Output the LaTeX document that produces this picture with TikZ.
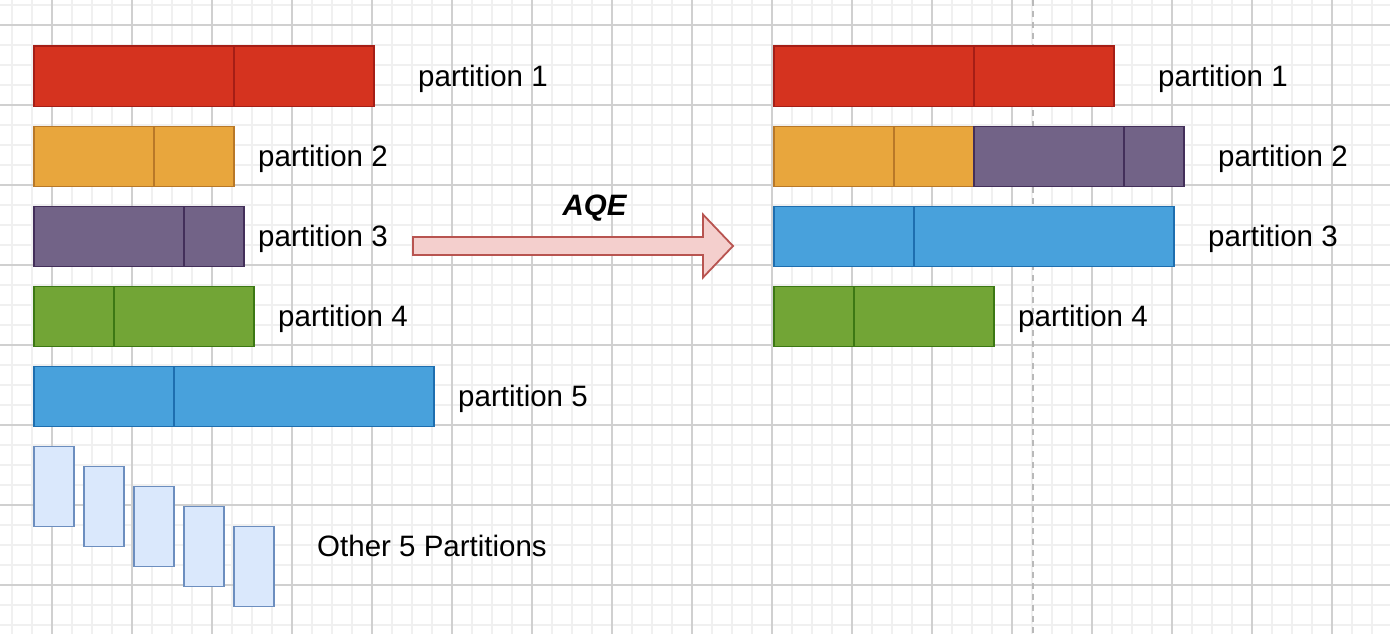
\documentclass[tikz,border=0pt]{standalone}
\usepackage{fontspec}
\setmainfont{Liberation Sans}
\definecolor{redF}{HTML}{D5331F}\definecolor{redS}{HTML}{A51E16}
\definecolor{orgF}{HTML}{E8A63D}\definecolor{orgS}{HTML}{B87828}
\definecolor{purF}{HTML}{726387}\definecolor{purS}{HTML}{432F5A}
\definecolor{grnF}{HTML}{72A536}\definecolor{grnS}{HTML}{3C7814}
\definecolor{bluF}{HTML}{48A1DC}\definecolor{bluS}{HTML}{1E6EAF}
\definecolor{smF}{HTML}{DAE8FC}\definecolor{smS}{HTML}{6C8EBF}
\definecolor{arF}{HTML}{F4CFCD}\definecolor{arS}{HTML}{B85450}
\definecolor{gridMinor}{HTML}{F0F0F0}\definecolor{gridMajor}{HTML}{D0D0D0}
\tikzset{
  seg/.style={draw, line width=1.8pt, inner sep=0pt, anchor=north west},
  redseg/.style={seg, fill=redF, draw=redS},
  orgseg/.style={seg, fill=orgF, draw=orgS},
  purseg/.style={seg, fill=purF, draw=purS},
  grnseg/.style={seg, fill=grnF, draw=grnS},
  bluseg/.style={seg, fill=bluF, draw=bluS},
  smallbox/.style={seg, fill=smF, draw=smS, minimum width=40pt, minimum height=80pt},
  lbl/.style={anchor=base west, inner sep=0pt, font=\fontsize{29.5}{34}\selectfont},
}
\newcommand{\segbox}[5]{% style, name, x1, x2, y
  \node[#1, minimum width={#4-#3}, minimum height=60pt] (#2) at (#3,#5) {};}
\begin{document}
\begin{tikzpicture}[x=1pt,y=-1pt]
\useasboundingbox (0,0) rectangle (1390,634);
\fill[white] (0,0) rectangle (1390,634);
% grid
\foreach \gx in {12,32,...,1390} \draw[gridMinor, line width=1.3pt] (\gx,0) -- (\gx,634);
\foreach \gy in {5,25,...,634} \draw[gridMinor, line width=1.3pt] (0,\gy) -- (1390,\gy);
\foreach \gx in {52,132,...,1390} \draw[gridMajor, line width=1.1pt] (\gx,0) -- (\gx,634);
\foreach \gy in {25,105,...,634} \draw[gridMajor, line width=1.1pt] (0,\gy) -- (1390,\gy);
% dashed guide
\draw[gray!55, line width=1.5pt, dash pattern=on 6pt off 5pt] (1033,0) -- (1033,634);

% left side
\segbox{redseg}{L1a}{33}{233}{45.5}
\segbox{redseg}{L1b}{233}{373}{45.5}
\node[lbl] (tL1) at (418,86.5) {partition 1};
\segbox{orgseg}{L2a}{33}{153}{125.5}
\segbox{orgseg}{L2b}{153}{233}{125.5}
\node[lbl] (tL2) at (258,166.5) {partition 2};
\segbox{purseg}{L3a}{33}{183}{205.5}
\segbox{purseg}{L3b}{183}{243}{205.5}
\node[lbl] (tL3) at (258,246.5) {partition 3};
\segbox{grnseg}{L4a}{33}{113}{285.5}
\segbox{grnseg}{L4b}{113}{253}{285.5}
\node[lbl] (tL4) at (278,326.5) {partition 4};
\segbox{bluseg}{L5a}{33}{173}{365.5}
\segbox{bluseg}{L5b}{173}{433}{365.5}
\node[lbl] (tL5) at (458,406.5) {partition 5};
\node[smallbox] (s1) at (33,445.5) {};
\node[smallbox] (s2) at (83,465.5) {};
\node[smallbox] (s3) at (133,485.5) {};
\node[smallbox] (s4) at (183,505.5) {};
\node[smallbox] (s5) at (233,525.5) {};
\node[lbl] (tOther) at (317,556.5) {Other 5 Partitions};

% arrow
\draw[fill=arF, draw=arS, line width=1.8pt, line join=miter]
  (413,237) -- (703,237) -- (703,214.5) -- (733,246) -- (703,277.5) -- (703,255) -- (413,255) -- cycle;
\node[anchor=base, inner sep=0pt, font=\fontsize{29.5}{34}\selectfont\bfseries\itshape] (aqe) at (594.5,215) {AQE};

% right side
\segbox{redseg}{R1a}{773}{973}{45.5}
\segbox{redseg}{R1b}{973}{1113}{45.5}
\node[lbl] (tR1) at (1158,86.5) {partition 1};
\segbox{orgseg}{R2a}{773}{893}{125.5}
\segbox{orgseg}{R2b}{893}{973}{125.5}
\segbox{purseg}{R2c}{973}{1123}{125.5}
\segbox{purseg}{R2d}{1123}{1183}{125.5}
\node[lbl] (tR2) at (1218,166.5) {partition 2};
\segbox{bluseg}{R3a}{773}{913}{205.5}
\segbox{bluseg}{R3b}{913}{1173}{205.5}
\node[lbl] (tR3) at (1208,246.5) {partition 3};
\segbox{grnseg}{R4a}{773}{853}{285.5}
\segbox{grnseg}{R4b}{853}{993}{285.5}
\node[lbl] (tR4) at (1018,326.5) {partition 4};
\end{tikzpicture}
\end{document}
